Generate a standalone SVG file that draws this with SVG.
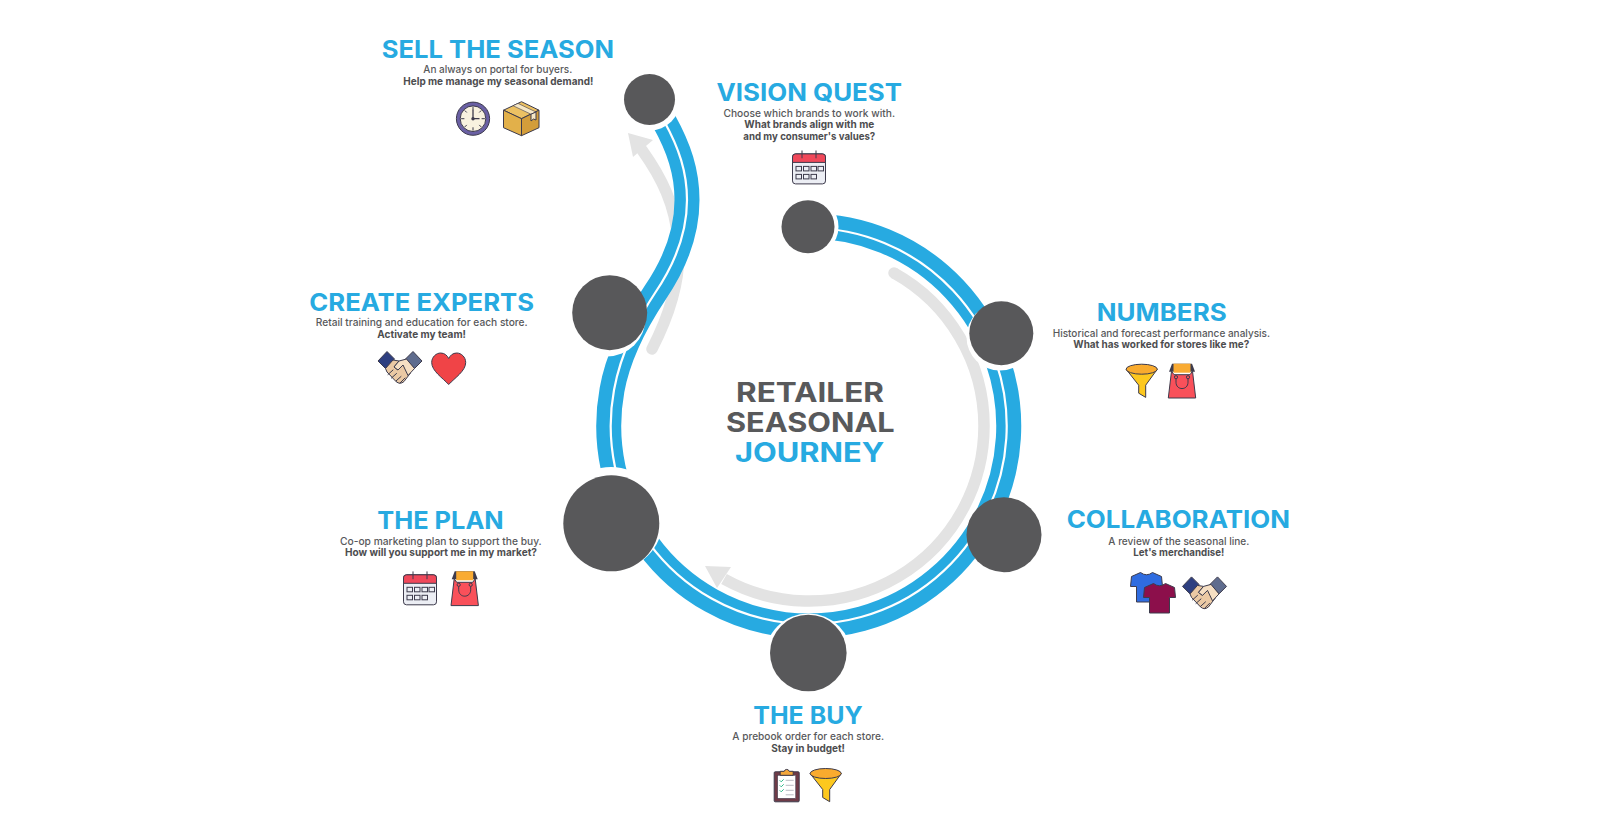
<svg xmlns="http://www.w3.org/2000/svg" width="1600" height="838" viewBox="0 0 1600 838">
<style>
text{font-family:Inter,"Liberation Sans",sans-serif;fill:#58595b}
.t{font-size:24.5px;font-weight:700;fill:#27aae1}
.s{font-size:10.5px;font-weight:500}
.b{font-size:10.5px;font-weight:700;fill:#4d4d4f}
.c{font-size:27px;font-weight:700}
.n{fill:#58585a}
.h{fill:#fff}
.o{stroke:#3d3b4c;stroke-width:1;stroke-linejoin:round}
.l{fill:none;stroke:#3d3b4c;stroke-width:1;stroke-linecap:round;stroke-linejoin:round}
</style>
<defs>
<g id="i-clock"><circle r="16.6" fill="#6a60a4" class="o"/><circle r="12.8" fill="#f8f2df" class="o"/><path class="l" d="M0-11.5v2.5M0 11.5v-2.5M-11.5 0h2.5M11.5 0h-2.5M-8-8l1.5 1.5M8-8l-1.5 1.5M-8 8l1.5-1.5M8 8l-1.5-1.5"/><path d="M0-9V0H6.5" fill="none" stroke="#3d3b4c" stroke-width="1.3"/><circle r="1.7" fill="#3d3b4c"/></g>
<g id="i-box" class="o"><path d="M-17.5-8.5L0.5-17L18-8.5L0.5 0Z" fill="#ecc163"/><path d="M-17.5-8.5L0.5 0V17L-17.5 9Z" fill="#e2b04a"/><path d="M18-8.5L0.5 0V17L18 9Z" fill="#d39d3a"/><path d="M-8-13l18 8.5 5-2.2L-3-15.3Z" fill="#f7e8c6" stroke-width=".6"/><path d="M10-4.5l5-2.2v8l-2.5-1-2.5 2Z" fill="#f7e8c6"/></g>
<g id="i-cal"><rect x="-16.5" y="-13.5" width="33" height="30" rx="3" fill="#eceef4" class="o"/><path d="M-16.5-5v-5.5a3 3 0 0 1 3-3h27a3 3 0 0 1 3 3V-5Z" fill="#f0485a" class="o"/><path class="l" d="M-7-16.5v7M7-16.5v7"/><g fill="none" stroke="#3d3b4c" stroke-width="1"><rect x="-13" y="-1" width="5.5" height="4.5"/><rect x="-5.5" y="-1" width="5.5" height="4.5"/><rect x="2" y="-1" width="5.5" height="4.5"/><rect x="9" y="-1" width="5.5" height="4.5"/><rect x="-13" y="7" width="5.5" height="4.5"/><rect x="-5.5" y="7" width="5.5" height="4.5"/><rect x="2" y="7" width="5.5" height="4.5"/></g></g>
<g id="i-bag"><path d="M-10-17H10L13-9H-13Z" fill="#3d3b4c"/><rect x="-8.5" y="-17" width="17" height="9" fill="#f9ab33"/><path d="M-10.5-9.5L-8-6H8L10.5-9.5L13.7 17.3H-13.7Z" fill="#f9505a" class="o"/><path class="l" d="M-6-2.5V1.5C-6 10 6 10 6 1.5V-2.5"/><circle cx="-6" cy="-3.5" r="1.6" fill="#f9505a" class="o"/><circle cx="6" cy="-3.5" r="1.6" fill="#f9505a" class="o"/></g>
<g id="i-funnel" class="o"><path d="M-15.6-11.5L-3 4.5V12.5L4 16.7V4.5L15.6-11.5Z" fill="#fdc81e"/><ellipse cy="-11.5" rx="15.6" ry="5" fill="#f9ab2e"/></g>
<g id="i-hands"><path d="M-22-7L-13-16.5L-5.5-9L-14.5 0.5Z" fill="#2e3f80" class="o"/><path d="M22-7L13-16.5L5.5-9L14.5 0.5Z" fill="#5f6c8e" class="o"/><path d="M-14.5 0.5L-7-8L-1-7L-6-1L-2 2L3-3L10.5 5L4 13.5Q0 17-4 13.5L-13 4Z" fill="#ebc9a4" class="o"/><path d="M-1-7L6.5-9L14.5 0.5L8 7.5L3-3L-2 2L-6-1Z" fill="#f6dfc3" class="o"/><path class="l" d="M-12 6.5L-7 2M-8.5 10L-3.5 5.5M-4 13L1 8.5M0 15L5 10"/></g>
<g id="i-heart"><path d="M0 15.5C-6 9-17 2-17-6.5C-17-12-12.5-16-8-16C-4-16-1.5-13.5 0-10.5C1.5-13.5 4-16 8-16C12.5-16 17-12 17-6.5C17 2 6 9 0 15.5Z" fill="#f04447" class="o"/></g>
<path id="i-shirt" d="M-6-14.5Q0-10 6-14.5L15-10.5L16-0.5H10V15H-10V-0.5H-16L-15-10.5Z" class="o"/>
<g id="i-clip"><rect x="-12.5" y="-12.5" width="25" height="30" rx="1" fill="#6e3b47" class="o"/><rect x="-9" y="-9" width="18" height="23" fill="#fff" stroke="#3d3b4c" stroke-width=".5"/><path d="M-6.5-9V-13H-2.5A2.6 2.600 0 0 1 2.5-13H6.5V-9Z" fill="#f3a73b" class="o"/><path d="M-7-4l1.500 1.500L-3-5M-7 1l1.500 1.500L-3 0M-7 6l1.500 1.500L-3 5" fill="none" stroke="#2fb98a" stroke-width="1"/><path d="M-1-4H7M-1 1H7M-1 6H7M-1 10.5H7" stroke="#b9bbc2" stroke-width="1"/></g>
</defs>

<g id="connectors" fill="none">
<path d="M894 273A175 175 0 0 1 984 426A175 175 0 0 1 724 579" stroke="#e3e3e3" stroke-width="11.5" stroke-linecap="butt"/>
<circle cx="894" cy="273" r="5.75" fill="#e3e3e3"/>
<polygon points="705,566 731,567 717,588" fill="#e3e3e3"/>
<path d="M652 349C672 310 682 275 678 240C675 205 662 178 642 150" stroke="#e3e3e3" stroke-width="11.5" stroke-linecap="round"/>
<polygon points="628,133 653,140 633,157" fill="#e3e3e3"/>
<path id="track" d="M809 226A200 200 0 1 1 612 390C619 351 641 314 655 293C672 268 687 235 687 200C687 172 679 148 664 121" stroke="#27aae1" stroke-width="25"/>
<path d="M809 228A198 198 0 1 1 614 390C621 351 641 314 655 293C672 268 687 235 687 200C687 172 679 148 664 121" stroke="#fff" stroke-width="2.2"/>
</g>

<g id="node-sell">
<circle class="h" cx="649.5" cy="99.5" r="31"/><circle class="n" cx="649.5" cy="99.5" r="25.5"/>
<text class="t" x="381.7" y="57.7" textLength="232.3" lengthAdjust="spacingAndGlyphs">SELL THE SEASON</text>
<text class="s" x="423.3" y="73.3" textLength="149" lengthAdjust="spacingAndGlyphs">An always on portal for buyers.</text>
<text class="b" x="403.3" y="85.3" textLength="190" lengthAdjust="spacingAndGlyphs">Help me manage my seasonal demand!</text>
<use href="#i-clock" x="473" y="118.7"/><use href="#i-box" x="521" y="118.7"/>
</g>
<g id="node-vision">
<circle class="h" cx="808" cy="226.7" r="30.5"/><circle class="n" cx="808" cy="226.7" r="26.5"/>
<text class="t" x="716.5" y="101" textLength="185.5" lengthAdjust="spacingAndGlyphs">VISION QUEST</text>
<text class="s" x="723.5" y="116.7" textLength="171.5" lengthAdjust="spacingAndGlyphs">Choose which brands to work with.</text>
<text class="b" x="744.3" y="128" textLength="130" lengthAdjust="spacingAndGlyphs">What brands align with me</text>
<text class="b" x="743.3" y="140" textLength="132" lengthAdjust="spacingAndGlyphs">and my consumer's values?</text>
<use href="#i-cal" x="809" y="167.4"/>
</g>
<g id="node-numbers">
<circle class="h" cx="1000" cy="337" r="33.5"/><circle class="n" cx="1001.3" cy="333.3" r="32"/>
<text class="t" x="1096.7" y="321.3" textLength="130" lengthAdjust="spacingAndGlyphs">NUMBERS</text>
<text class="s" x="1052.7" y="337" textLength="217.3" lengthAdjust="spacingAndGlyphs">Historical and forecast performance analysis.</text>
<text class="b" x="1073.3" y="348.3" textLength="176" lengthAdjust="spacingAndGlyphs">What has worked for stores like me?</text>
<use href="#i-funnel" x="1141.7" y="380.7"/><use href="#i-bag" x="1182" y="380.7"/>
</g>
<g id="node-collaboration">
<circle class="n" cx="1004" cy="534.7" r="37.5"/>
<text class="t" x="1066.7" y="528.3" textLength="223.3" lengthAdjust="spacingAndGlyphs">COLLABORATION</text>
<text class="s" x="1108.3" y="544.7" textLength="141" lengthAdjust="spacingAndGlyphs">A review of the seasonal line.</text>
<text class="b" x="1133.3" y="556" textLength="91" lengthAdjust="spacingAndGlyphs">Let's merchandise!</text>
<use href="#i-shirt" x="1146.5" y="587" fill="#2f6ce0"/><use href="#i-shirt" x="1159.5" y="598" fill="#8c0f4b"/>
<use href="#i-hands" x="1204.5" y="593.4"/>
</g>
<g id="node-buy">
<circle class="h" cx="808.3" cy="657" r="43.5"/><circle class="n" cx="808.3" cy="653" r="38.3"/>
<text class="t" x="753.3" y="724.3" textLength="109.4" lengthAdjust="spacingAndGlyphs">THE BUY</text>
<text class="s" x="732.3" y="740" textLength="151.7" lengthAdjust="spacingAndGlyphs">A prebook order for each store.</text>
<text class="b" x="771.3" y="752" textLength="73.7" lengthAdjust="spacingAndGlyphs">Stay in budget!</text>
<use href="#i-clip" x="786.7" y="784.3"/><use href="#i-funnel" x="825.7" y="785"/>
</g>
<g id="node-plan">
<circle class="h" cx="611" cy="519" r="52"/><circle class="n" cx="611.3" cy="523.3" r="48"/>
<text class="t" x="377.3" y="528.7" textLength="126.4" lengthAdjust="spacingAndGlyphs">THE PLAN</text>
<text class="s" x="340" y="545" textLength="201.7" lengthAdjust="spacingAndGlyphs">Co-op marketing plan to support the buy.</text>
<text class="b" x="345" y="556.3" textLength="192" lengthAdjust="spacingAndGlyphs">How will you support me in my market?</text>
<use href="#i-cal" x="420" y="588.3"/><use href="#i-bag" x="464.7" y="588.3"/>
</g>
<g id="node-create">
<circle class="h" cx="607" cy="318" r="38.5"/><circle class="n" cx="609.7" cy="312.7" r="37.5"/>
<text class="t" x="309.3" y="310.7" textLength="224.7" lengthAdjust="spacingAndGlyphs">CREATE EXPERTS</text>
<text class="s" x="315.7" y="326.3" textLength="212" lengthAdjust="spacingAndGlyphs">Retail training and education for each store.</text>
<text class="b" x="377.3" y="337.7" textLength="88.7" lengthAdjust="spacingAndGlyphs">Activate my team!</text>
<use href="#i-hands" x="400" y="368"/><use href="#i-heart" x="448.7" y="369"/>
</g>
<g id="title">
<text class="c" x="736" y="402.3" textLength="148" lengthAdjust="spacingAndGlyphs">RETAILER</text>
<text class="c" x="726" y="431.7" textLength="168.7" lengthAdjust="spacingAndGlyphs">SEASONAL</text>
<text class="c" x="735" y="462" textLength="149.3" lengthAdjust="spacingAndGlyphs" style="fill:#27aae1">JOURNEY</text>
</g>
</svg>
